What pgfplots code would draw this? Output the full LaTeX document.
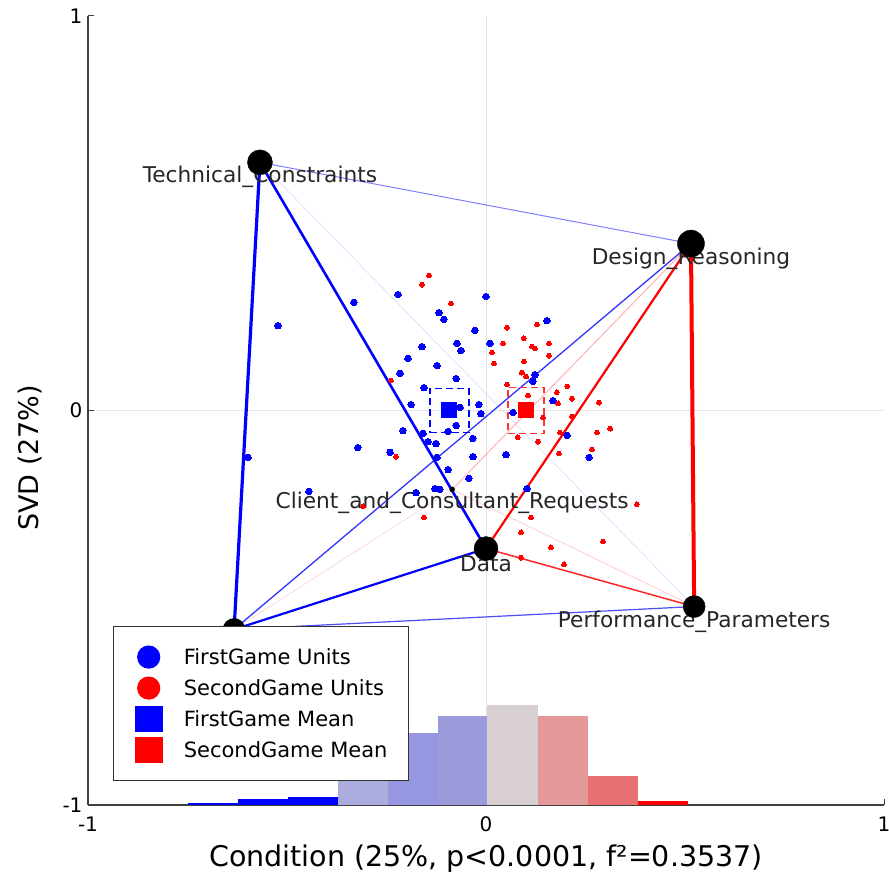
\documentclass[border=0pt]{standalone}
\usepackage{fontspec}
\setmainfont{DejaVu Sans}
\usepackage{pgfplots}
\pgfplotsset{compat=1.18}
\definecolor{hb4}{RGB}{172,172,222}
\definecolor{hb5}{RGB}{150,150,225}
\definecolor{hb6}{RGB}{155,155,220}
\definecolor{hb7}{RGB}{216,208,208}
\definecolor{hb8}{RGB}{228,152,152}
\definecolor{hb9}{RGB}{233,112,112}
\begin{document}
\begin{tikzpicture}
\begin{axis}[
  scale only axis, width=796pt, height=789pt,
  xmin=-1, xmax=1, ymin=-1, ymax=1,
  axis lines*=left,
  axis line style={black!75, line width=1.2pt},
  xtick={-1,1}, ytick={-1,1},
  extra x ticks={0}, extra y ticks={0},
  extra tick style={grid=major, grid style={black!10, line width=0.8pt}},
  tick align=inside,
  major tick length=6pt,
  tick style={black!75, line width=1pt},
  ticklabel style={font=\fontsize{20}{24}\selectfont},
  xticklabel style={yshift=-8pt},
  yticklabel style={xshift=-2pt},
  /pgf/number format/assume math mode=true,
  xlabel={Condition (25\%, p<0.0001, f²=0.3537)},
  ylabel={SVD (27\%)},
  xlabel style={at={(axis description cs:0.5,-0.068)}, anchor=center, font=\fontsize{28.5}{32}\selectfont},
  ylabel style={at={(axis description cs:-0.073,0.44)}, anchor=center, font=\fontsize{27}{32}\selectfont},
  clip=false,
  legend cell align=left,
  legend style={at={(axis description cs:0.0314,0.2269)}, anchor=north west,
    draw=black!80, line width=1.2pt, fill=white,
    font=\fontsize{21}{25}\selectfont, inner xsep=21pt, inner ysep=15pt,
    column sep=21pt, row sep=0pt, nodes={inner sep=0pt}},
]
% histogram
\addplot[fill=blue, draw=none, forget plot] coordinates {(-0.749,-1) (-0.749,-0.996) (-0.623,-0.996) (-0.623,-1)} --cycle;
\addplot[fill=blue, draw=none, forget plot] coordinates {(-0.623,-1) (-0.623,-0.985) (-0.498,-0.985) (-0.498,-1)} --cycle;
\addplot[fill=blue, draw=none, forget plot] coordinates {(-0.498,-1) (-0.498,-0.979) (-0.372,-0.979) (-0.372,-1)} --cycle;
\addplot[fill=hb4, draw=none, forget plot] coordinates {(-0.372,-1) (-0.372,-0.815) (-0.246,-0.815) (-0.246,-1)} --cycle;
\addplot[fill=hb5, draw=none, forget plot] coordinates {(-0.246,-1) (-0.246,-0.817) (-0.121,-0.817) (-0.121,-1)} --cycle;
\addplot[fill=hb6, draw=none, forget plot] coordinates {(-0.121,-1) (-0.121,-0.774) (0.003,-0.774) (0.003,-1)} --cycle;
\addplot[fill=hb7, draw=none, forget plot] coordinates {(0.003,-1) (0.003,-0.746) (0.131,-0.746) (0.131,-1)} --cycle;
\addplot[fill=hb8, draw=none, forget plot] coordinates {(0.131,-1) (0.131,-0.774) (0.257,-0.774) (0.257,-1)} --cycle;
\addplot[fill=hb9, draw=none, forget plot] coordinates {(0.257,-1) (0.257,-0.926) (0.382,-0.926) (0.382,-1)} --cycle;
\addplot[fill=red, draw=none, forget plot] coordinates {(0.382,-1) (0.382,-0.989) (0.508,-0.989) (0.508,-1)} --cycle;
% edges (blue = FirstGame stronger)
\addplot[blue, line width=0.8pt, opacity=0.12, forget plot] coordinates {(-0.568,0.629) (0.523,-0.497)};
\addplot[blue, line width=1pt, opacity=0.5, forget plot] coordinates {(-0.568,0.629) (0.515,0.423)};
\addplot[blue, line width=1.2pt, opacity=0.7, forget plot] coordinates {(-0.633,-0.555) (0.523,-0.497)};
\addplot[blue, line width=1.3pt, opacity=0.8, forget plot] coordinates {(-0.633,-0.555) (0.515,0.423)};
\addplot[blue, line width=2.2pt, forget plot] coordinates {(-0.633,-0.555) (0.0,-0.35)};
\addplot[blue, line width=2.6pt, forget plot] coordinates {(-0.568,0.629) (0.0,-0.35)};
\addplot[blue, line width=3.2pt, forget plot] coordinates {(-0.568,0.629) (-0.633,-0.555)};
% edges (red = SecondGame stronger)
\addplot[red, line width=0.8pt, opacity=0.15, forget plot] coordinates {(-0.633,-0.555) (-0.085,-0.2)};
\addplot[red, line width=0.8pt, opacity=0.2, forget plot] coordinates {(-0.085,-0.2) (0.523,-0.497)};
\addplot[red, line width=1pt, opacity=0.3, forget plot] coordinates {(-0.085,-0.2) (0.515,0.423)};
\addplot[red, line width=1.5pt, opacity=0.85, forget plot] coordinates {(0.0,-0.35) (0.523,-0.497)};
\addplot[red, line width=2.2pt, forget plot] coordinates {(0.0,-0.35) (0.515,0.423)};
\addplot[red, line width=4pt, forget plot] coordinates {(0.515,0.423) (0.523,-0.497)};
% units
\addplot[color=blue, only marks, mark=*, mark size=3.3pt, mark options={solid, fill=blue, draw=blue, line width=0pt},
  legend image code/.code={\path[draw=none,fill=none] (0pt,-15.5pt) rectangle (27pt,15.5pt); \fill[blue] (13.5pt,0pt) circle (11pt);}]
coordinates {
(-0.523,0.215) (-0.332,0.274) (-0.221,0.294) (0.000,0.289) (-0.118,0.248)
(-0.106,0.231) (0.153,0.228) (-0.028,0.203) (-0.161,0.162) (-0.073,0.170)
(-0.063,0.152) (0.010,0.170) (-0.196,0.132) (-0.123,0.114) (-0.216,0.094)
(-0.075,0.081) (0.123,0.091) (0.118,0.074) (-0.156,0.058) (-0.188,0.015)
(-0.018,0.015) (-0.013,-0.008) (-0.065,0.008) (0.168,0.025) (0.068,-0.005)
(-0.209,-0.051) (-0.075,-0.038) (-0.095,-0.053) (-0.158,-0.058) (-0.146,-0.079)
(-0.126,-0.084) (-0.033,-0.071) (-0.241,-0.106) (-0.123,-0.119) (-0.033,-0.117)
(0.050,-0.112) (0.204,-0.063) (0.259,-0.119) (-0.095,-0.150) (-0.043,-0.172)
(-0.128,-0.198) (-0.116,-0.200) (0.103,-0.198) (-0.176,-0.208) (-0.322,-0.094)
(-0.445,-0.205) (-0.598,-0.119)
};
\addlegendentry{FirstGame Units}
\addplot[color=red, only marks, mark=*, mark size=2.4pt, mark options={solid, fill=red, draw=red, line width=0pt},
  legend image code/.code={\path[draw=none,fill=none] (0pt,-15.5pt) rectangle (27pt,15.5pt); \fill[red] (13.5pt,0pt) circle (11pt);}]
coordinates {
(-0.143,0.342) (-0.161,0.319) (-0.088,0.271) (0.053,0.210) (0.128,0.218)
(0.095,0.183) (0.043,0.170) (0.116,0.162) (0.123,0.157) (0.158,0.170)
(0.015,0.147) (0.158,0.139) (0.020,0.119) (0.095,0.124) (0.090,0.096)
(0.101,0.086) (-0.239,0.076) (0.053,0.066) (0.204,0.061) (0.178,0.046)
(0.106,0.038) (0.216,0.030) (0.284,0.020) (0.181,0.018) (0.312,-0.046)
(0.143,-0.018) (0.279,-0.056) (0.186,-0.056) (0.080,-0.068) (0.131,-0.079)
(0.216,-0.015) (0.266,-0.099) (0.183,-0.109) (-0.226,-0.117) (0.379,-0.238)
(0.113,-0.271) (0.088,-0.309) (0.294,-0.332) (0.163,-0.347) (0.088,-0.373)
(0.196,-0.390) (-0.156,-0.271) (-0.309,-0.243)
};
\addlegendentry{SecondGame Units}
% means
\addplot[color=blue, only marks, mark=square*, mark size=7.5pt, mark options={solid, fill=blue, draw=blue, line width=0pt},
  legend image code/.code={\path[draw=none,fill=none] (0pt,-15.5pt) rectangle (27pt,15.5pt); \fill[blue] (0pt,-12.5pt) rectangle (27pt,12.5pt);}]
coordinates {(-0.093,0.0)};
\addlegendentry{FirstGame Mean}
\addplot[color=red, only marks, mark=square*, mark size=7.5pt, mark options={solid, fill=red, draw=red, line width=0pt},
  legend image code/.code={\path[draw=none,fill=none] (0pt,-15.5pt) rectangle (27pt,15.5pt); \fill[red] (0pt,-12.5pt) rectangle (27pt,12.5pt);}]
coordinates {(0.100,0.0)};
\addlegendentry{SecondGame Mean}
% confidence boxes
\addplot[blue, line width=1.5pt, dash pattern=on 7pt off 4pt, forget plot] coordinates {(-0.141,-0.056) (-0.043,-0.056) (-0.043,0.056) (-0.141,0.056)} --cycle;
\addplot[red!80, line width=1.5pt, dash pattern=on 7pt off 4pt, forget plot] coordinates {(0.055,-0.058) (0.146,-0.058) (0.146,0.058) (0.055,0.058)} --cycle;
% nodes
\addplot[only marks, mark=*, mark size=12.5pt, black, forget plot] coordinates {(-0.568,0.629)};
\addplot[only marks, mark=*, mark size=13.5pt, black, forget plot] coordinates {(0.515,0.423)};
\addplot[only marks, mark=*, mark size=12pt, black, forget plot] coordinates {(0.0,-0.35)};
\addplot[only marks, mark=*, mark size=11pt, black, forget plot] coordinates {(0.523,-0.497)};
\addplot[only marks, mark=*, mark size=11pt, black, forget plot] coordinates {(-0.633,-0.555)};
\addplot[only marks, mark=*, mark size=2.5pt, black, forget plot] coordinates {(-0.085,-0.2)};
% node labels
\begin{scope}[every node/.style={font=\fontsize{21.7}{25}\selectfont, text=black!85, inner sep=0pt}]
\node at (axis cs:-0.568,0.629) [yshift=-14pt] {Technical\_Constraints};
\node at (axis cs:0.515,0.423) [yshift=-15pt] {Design\_Reasoning};
\node at (axis cs:0.0,-0.35) [yshift=-15pt] {Data};
\node at (axis cs:0.523,-0.497) [yshift=-15pt] {Performance\_Parameters};
\node at (axis cs:-0.085,-0.2) [yshift=-13pt] {Client\_and\_Consultant\_Requests};
\end{scope}
\coordinate (SW) at (rel axis cs:0,0);
\coordinate (NE) at (rel axis cs:1,1);
\end{axis}
\pgfresetboundingbox
\path ([shift={(-88pt,-75pt)}]SW) rectangle ([shift={(5pt,16pt)}]NE);
\end{tikzpicture}
\end{document}
